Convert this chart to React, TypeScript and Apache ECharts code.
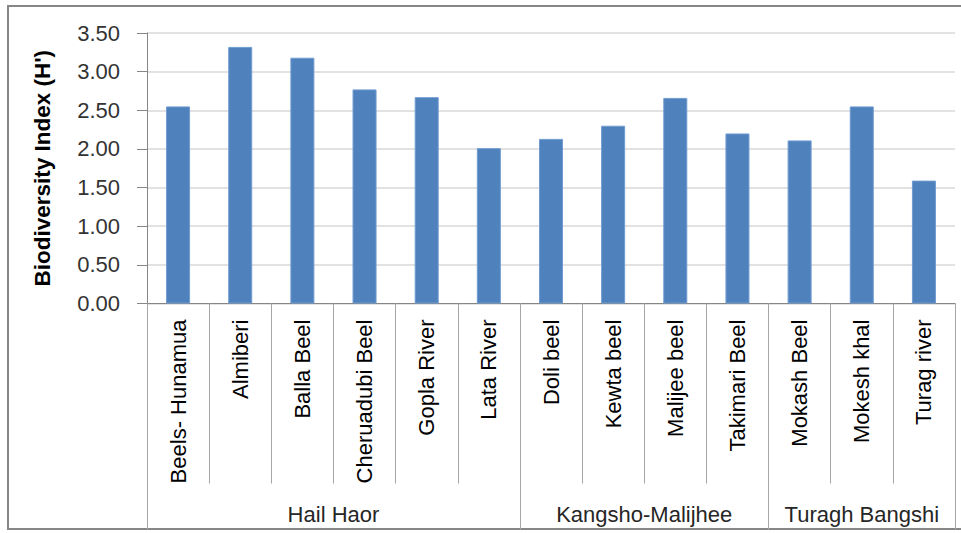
import React, { useEffect, useRef } from "react";
import * as echarts from "echarts";

const categories = [
  "Beels- Hunamua",
  "Almiberi",
  "Balla Beel",
  "Cheruadubi Beel",
  "Gopla River",
  "Lata River",
  "Doli beel",
  "Kewta beel",
  "Malijee beel",
  "Takimari Beel",
  "Mokash Beel",
  "Mokesh khal",
  "Turag river",
];
const values = [2.55, 3.32, 3.18, 2.77, 2.67, 2.01, 2.13, 2.3, 2.66, 2.2, 2.11, 2.55, 1.59];
const groups = ["Hail Haor", "Kangsho-Malijhee", "Turagh Bangshi"];
const groupSizes = [6, 4, 3];
const yTicks = { min: 0, max: 3.5, interval: 0.5 };

export default function App() {
  const ref = useRef<HTMLDivElement>(null);
  useEffect(() => {
    document.body.style.margin = "0";
    if (!ref.current) return;
    const chart = echarts.init(ref.current, undefined, { renderer: "svg" });

    // half-unit positions for group axis (boundaryGap false)
    const halfCount = categories.length * 2 + 1;
    const groupData: string[] = new Array(halfCount).fill("");
    const boundaries: number[] = [0];
    let start = 0;
    groups.forEach((g, i) => {
      const size = groupSizes[i];
      groupData[start * 2 + size] = g;
      start += size;
      boundaries.push(start * 2);
    });
    const groupAxisData = groupData.map((v, i) => ({ value: v === "" ? " ".repeat(i + 1) : v }));

    const font = "'Liberation Sans', Arial, sans-serif";
    chart.setOption({
      animation: false,
      graphic: [
        {
          type: "rect",
          shape: { x: 8, y: 6, width: 960, height: 523 },
          style: { fill: "none", stroke: "#868686", lineWidth: 2 },
          silent: true,
        },
      ],
      grid: { left: 147, right: 6, top: 33, bottom: 229.5, containLabel: false },
      xAxis: [
        {
          type: "category",
          data: categories,
          position: "bottom",
          axisLine: { show: true, onZero: false, lineStyle: { color: "#868686", width: 1 } },
          axisTick: { show: true, interval: 0, length: 180, lineStyle: { color: "#a6a6a6", width: 1 } },
          axisLabel: {
            interval: 0,
            rotate: 90,
            margin: 16,
            color: "#000",
            fontFamily: font,
            fontSize: 22,
          },
        },
        {
          type: "category",
          data: groupAxisData,
          position: "bottom",
          boundaryGap: false,
          axisLine: { show: false, onZero: false },
          axisTick: {
            show: true,
            length: 226,
            interval: (index: number) => boundaries.includes(index),
            lineStyle: { color: "#a6a6a6", width: 1 },
          },
          axisLabel: {
            interval: 0,
            margin: 200,
            color: "#262626",
            fontFamily: font,
            fontSize: 22,
            formatter: (v: string) => v.trim(),
          },
        },
      ],
      yAxis: {
        type: "value",
        min: yTicks.min,
        max: yTicks.max,
        interval: yTicks.interval,
        name: "Biodiversity Index (H')",
        nameLocation: "middle",
        nameGap: 93,
        nameTextStyle: { fontFamily: font, fontSize: 22.5, fontWeight: "bold", color: "#000" },
        axisLine: { show: true, lineStyle: { color: "#868686", width: 1 } },
        axisTick: { show: true, length: 10, lineStyle: { color: "#868686" } },
        splitLine: { show: true, lineStyle: { color: "#d9d9d9", width: 1.5 } },
        axisLabel: {
          margin: 27,
          color: "#333",
          fontFamily: font,
          fontSize: 22,
          formatter: (v: number) => v.toFixed(2),
        },
      },
      series: [
        {
          type: "bar",
          data: values,
          xAxisIndex: 0,
          barWidth: 24,
          itemStyle: { color: "#4f81bd", borderColor: "#6f9bd1", borderWidth: 1 },
        },
      ],
    });
    return () => chart.dispose();
  }, []);
  return <div ref={ref} style={{ width: 961, height: 533 }} />;
}
